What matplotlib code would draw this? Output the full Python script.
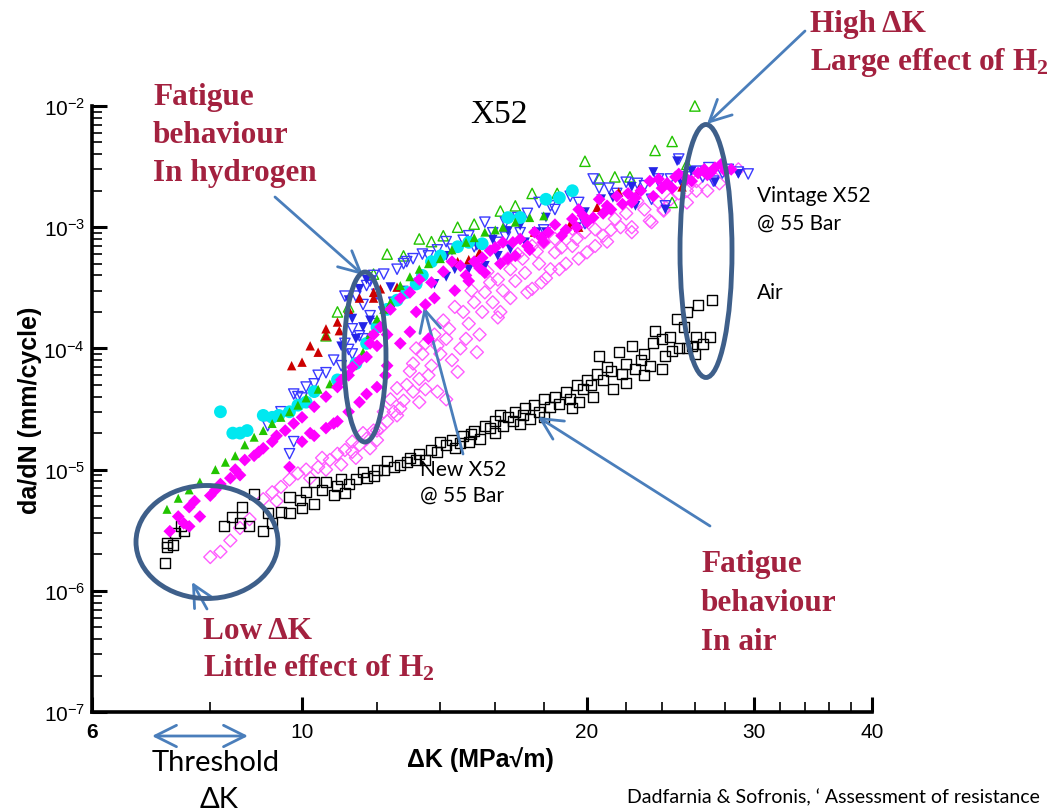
import numpy as np
import matplotlib
matplotlib.use("Agg")
import matplotlib.pyplot as plt
from matplotlib.patches import Ellipse
from matplotlib.ticker import FixedLocator, NullFormatter, LogLocator

# da/dN vs dK, X52 pipeline steel
# each series: (dK in MPa sqrt(m), da/dN in mm/cycle)
air = [(7.16, 1.7e-6), (7.2, 2.3e-6), (7.2, 2.5e-6), (7.3, 2.4e-6), (7.35, 3.0e-6), (7.45, 3.4e-6),
       (7.5, 3.1e-6), (8.27, 3.4e-6), (8.43, 4.1e-6), (8.6, 3.6e-6), (8.65, 4.9e-6), (8.8, 3.4e-6),
       (8.9, 6.3e-6), (9.1, 3.1e-6), (9.2, 4.4e-6), (9.3, 3.6e-6), (9.5, 4.5e-6), (9.7, 5.9e-6),
       (9.7, 4.4e-6), (9.96, 5.6e-6), (10.0, 4.8e-6), (10.1, 6.5e-6), (10.3, 7.9e-6), (10.3, 5.2e-6),
       (10.5, 6.8e-6), (10.6, 7.9e-6), (10.8, 6.2e-6), (10.9, 7.3e-6), (11.0, 8.3e-6), (11.1, 6.4e-6),
       (11.2, 7.6e-6), (11.4, 8.4e-6), (11.6, 9.5e-6), (11.7, 8.6e-6), (11.9, 8.8e-6), (12.0, 1.0e-5),
       (12.2, 1.0e-5), (12.3, 1.18e-5), (12.5, 1.05e-5), (12.7, 1.1e-5), (12.9, 1.15e-5), (13.0, 1.25e-5),
       (13.2, 1.2e-5), (13.3, 1.35e-5), (13.5, 1.2e-5), (13.7, 1.45e-5), (13.9, 1.4e-5), (14.0, 1.7e-5),
       (14.2, 1.6e-5), (14.4, 1.75e-5), (14.5, 1.5e-5), (14.7, 1.65e-5), (14.8, 1.9e-5), (15.0, 1.7e-5),
       (15.1, 1.95e-5), (15.2, 2.1e-5), (15.4, 1.8e-5), (15.6, 2.3e-5), (15.8, 2.2e-5), (16.0, 2.5e-5),
       (16.0, 2.0e-5), (16.2, 2.8e-5), (16.3, 2.3e-5), (16.5, 2.7e-5), (16.7, 2.5e-5), (16.8, 3.0e-5),
       (17.0, 2.4e-5), (17.1, 2.8e-5), (17.2, 3.2e-5), (17.4, 2.6e-5), (17.6, 3.4e-5), (17.8, 3.0e-5),
       (18.0, 3.8e-5), (18.0, 2.7e-5), (18.3, 3.3e-5), (18.5, 4.0e-5), (18.7, 3.5e-5), (19.0, 4.4e-5),
       (19.2, 3.8e-5), (19.3, 3.2e-5), (19.5, 5.0e-5), (19.6, 3.6e-5), (19.8, 4.6e-5), (20.0, 5.5e-5),
       (20.2, 5.0e-5), (20.3, 4.0e-5), (20.5, 6.2e-5), (20.6, 8.6e-5), (20.8, 5.5e-5), (21.0, 7.0e-5),
       (21.2, 6.5e-5), (21.3, 4.6e-5), (21.6, 9.4e-5), (21.8, 6.2e-5), (22.0, 7.5e-5), (22.0, 5.2e-5),
       (22.3, 1.05e-4), (22.5, 6.8e-5), (22.8, 8.0e-5), (23.0, 6.0e-5), (23.0, 9.0e-5), (23.3, 7.2e-5),
       (23.5, 1.1e-4), (23.6, 1.4e-4), (24.0, 1.2e-4), (24.0, 6.8e-5), (24.2, 8.6e-5), (24.5, 1.25e-4),
       (24.6, 9.5e-5), (24.9, 1.75e-4), (25.0, 1.0e-4), (25.3, 1.5e-4), (25.5, 2.0e-4), (25.5, 1.0e-4),
       (25.8, 1.05e-4), (26.0, 9.0e-5), (26.1, 1.25e-4), (26.2, 2.3e-4), (26.5, 1.08e-4), (27.0, 1.25e-4),
       (27.1, 2.5e-4)]

mag_open = [(8.0, 1.9e-6), (8.2, 2.1e-6), (8.4, 2.6e-6), (8.6, 3.3e-6), (8.8, 3.9e-6), (9.1, 5.7e-6),
            (9.3, 6.5e-6), (9.4, 5.5e-6), (9.5, 7.2e-6), (9.7, 8.3e-6), (9.9, 9.3e-6), (10.1, 1.0e-5),
            (10.2, 8.5e-6), (10.4, 1.05e-5), (10.5, 1.25e-5), (10.6, 1.0e-5), (10.7, 1.2e-5), (10.9, 1.35e-5),
            (11.0, 1.1e-5), (11.1, 1.45e-5), (11.3, 1.4e-5), (11.3, 1.7e-5), (11.4, 1.25e-5), (11.5, 1.6e-5),
            (11.6, 2.0e-5), (11.7, 1.8e-5), (11.8, 1.5e-5), (11.9, 2.1e-5), (12.0, 2.1e-5), (12.0, 1.75e-5),
            (12.1, 2.2e-5), (12.2, 3.0e-5), (12.3, 2.5e-5), (12.4, 3.8e-5), (12.5, 3.0e-5), (12.6, 4.7e-5),
            (12.6, 2.8e-5), (12.7, 3.2e-5), (12.8, 3.7e-5), (12.9, 5.0e-5), (13.0, 6.5e-5), (13.1, 4.4e-5),
            (13.1, 7.5e-5), (13.2, 1.0e-4), (13.3, 5.6e-5), (13.3, 3.6e-5), (13.4, 9.0e-5), (13.5, 4.6e-5),
            (13.5, 1.1e-4), (13.6, 6.0e-5), (13.7, 7.2e-5), (13.8, 1.3e-4), (13.9, 4.4e-5), (13.9, 1.05e-4),
            (14.0, 9.0e-5), (14.1, 1.7e-4), (14.2, 3.8e-5), (14.2, 1.2e-4), (14.3, 1.45e-4), (14.4, 8.0e-5),
            (14.5, 2.2e-4), (14.6, 6.4e-5), (14.7, 1.0e-4), (14.8, 2.0e-4), (14.9, 1.2e-4), (15.0, 1.6e-4),
            (15.1, 3.0e-4), (15.2, 2.4e-4), (15.3, 9.3e-5), (15.4, 1.3e-4), (15.5, 2.0e-4), (15.6, 2.9e-4),
            (15.7, 4.3e-4), (15.8, 3.5e-4), (15.9, 2.4e-4), (16.1, 3.7e-4), (16.1, 1.8e-4), (16.2, 2.0e-4),
            (16.3, 3.0e-4), (16.5, 5.5e-4), (16.6, 4.5e-4), (16.6, 2.6e-4), (16.8, 3.6e-4), (16.9, 6.0e-4),
            (17.1, 5.5e-4), (17.2, 4.2e-4), (17.3, 2.9e-4), (17.5, 7.0e-4), (17.5, 3.1e-4), (17.7, 6.3e-4),
            (17.8, 5.0e-4), (17.9, 3.5e-4), (18.0, 7.5e-4), (18.1, 3.8e-4), (18.3, 4.5e-4), (18.5, 8.0e-4),
            (18.5, 6.2e-4), (18.7, 4.5e-4), (18.8, 6.8e-4), (19.0, 5.0e-4), (19.3, 9.7e-4), (19.3, 7.0e-4),
            (19.5, 8.0e-4), (19.6, 5.5e-4), (19.9, 9.1e-4), (20.0, 6.2e-4), (20.4, 9.6e-4), (20.4, 7.0e-4),
            (20.8, 8.5e-4), (21.0, 7.6e-4), (21.2, 9.5e-4), (21.4, 1.17e-3), (21.7, 1.0e-3), (22.0, 1.3e-3),
            (22.3, 9.1e-4), (22.3, 1.0e-3), (22.6, 1.64e-3), (23.0, 1.4e-3), (23.3, 1.13e-3), (23.4, 1.1e-3),
            (23.8, 1.6e-3), (24.1, 1.37e-3), (24.1, 1.4e-3), (24.5, 1.7e-3), (25.0, 1.9e-3), (25.5, 1.6e-3),
            (25.5, 2.0e-3), (26.1, 2.4e-3), (26.1, 2.0e-3), (26.8, 2.0e-3), (27.2, 2.6e-3), (27.6, 2.3e-3),
            (28.9, 3.0e-3)]

mag_fill = [(7.25, 3.1e-6), (7.4, 4.1e-6), (7.5, 3.6e-6), (7.6, 4.9e-6), (7.6, 3.4e-6), (7.7, 5.5e-6),
            (7.8, 4.1e-6), (8.0, 6.1e-6), (8.1, 6.8e-6), (8.2, 7.6e-6), (8.4, 8.5e-6), (8.5, 1.0e-5),
            (8.6, 9.0e-6), (8.7, 1.2e-5), (8.9, 1.3e-5), (9.0, 1.4e-5), (9.1, 1.5e-5), (9.3, 1.7e-5),
            (9.4, 1.9e-5), (9.6, 2.1e-5), (9.7, 1.05e-5), (9.8, 2.4e-5), (10.0, 2.7e-5), (10.0, 1.7e-5),
            (10.2, 2.0e-5), (10.3, 3.3e-5), (10.3, 1.9e-5), (10.6, 4.0e-5), (10.6, 2.2e-5), (10.8, 2.4e-5),
            (10.9, 4.8e-5), (10.9, 2.5e-5), (11.0, 5.5e-5), (11.2, 6.0e-5), (11.2, 3.0e-5), (11.3, 7.0e-5),
            (11.5, 8.0e-5), (11.5, 3.6e-5), (11.7, 4.2e-5), (11.7, 8.5e-5), (11.8, 1.1e-4), (11.9, 1.3e-4),
            (12.0, 4.8e-5), (12.0, 1.05e-4), (12.1, 1.5e-4), (12.25, 6.0e-5), (12.3, 7.2e-5), (12.3, 1.3e-4),
            (12.4, 2.1e-4), (12.7, 2.6e-4), (12.7, 1.1e-4), (13.0, 2.9e-4), (13.0, 1.37e-4), (13.2, 2.0e-4),
            (13.3, 3.7e-4), (13.5, 2.3e-4), (13.6, 1.2e-4), (13.7, 3.5e-4), (13.8, 2.6e-4), (14.1, 4.3e-4),
            (14.4, 5.2e-4), (14.5, 3.0e-4), (14.7, 4.8e-4), (14.9, 4.0e-4), (15.0, 3.6e-4), (15.2, 5.2e-4),
            (15.4, 4.6e-4), (15.5, 5.6e-4), (15.6, 4.2e-4), (15.8, 6.4e-4), (16.0, 6.8e-4), (16.2, 5.0e-4),
            (16.3, 7.5e-4), (16.5, 5.5e-4), (16.7, 7.5e-4), (16.8, 5.8e-4), (17.0, 8.0e-4), (17.3, 7.0e-4),
            (17.4, 6.5e-4), (17.6, 9.1e-4), (17.9, 8.2e-4), (18.0, 7.5e-4), (18.2, 9.1e-4), (18.5, 1.05e-3),
            (18.8, 8.5e-4), (19.0, 9.5e-4), (19.3, 1.17e-3), (19.5, 1.0e-3), (19.6, 1.4e-3), (19.8, 1.25e-3),
            (20.0, 1.1e-3), (20.3, 1.2e-3), (20.6, 1.7e-3), (20.8, 1.3e-3), (21.0, 1.5e-3), (21.2, 1.4e-3),
            (21.5, 1.8e-3), (21.8, 1.55e-3), (22.1, 1.9e-3), (22.3, 1.6e-3), (22.5, 1.75e-3), (22.8, 2.0e-3),
            (23.3, 2.4e-3), (23.5, 1.8e-3), (23.8, 2.5e-3), (24.0, 2.1e-3), (24.3, 2.3e-3), (24.6, 2.1e-3),
            (24.8, 2.6e-3), (25.0, 2.75e-3), (25.5, 2.5e-3), (25.8, 2.4e-3), (26.2, 2.8e-3), (26.6, 3.0e-3),
            (26.8, 2.7e-3), (27.0, 2.8e-3), (27.3, 3.1e-3), (27.7, 3.3e-3), (28.0, 2.9e-3), (28.4, 3.0e-3)]

green_fill = [(7.2, 4.7e-6), (7.4, 5.8e-6), (7.6, 6.8e-6), (7.8, 7.9e-6), (8.1, 1.0e-5), (8.3, 1.15e-5),
              (8.5, 1.3e-5), (8.7, 1.6e-5), (8.9, 1.85e-5), (9.1, 2.1e-5), (9.3, 2.4e-5), (9.5, 2.7e-5),
              (9.7, 3.0e-5), (9.9, 3.4e-5), (10.1, 3.9e-5), (10.4, 4.6e-5), (10.7, 5.1e-5), (11.0, 5.6e-5),
              (11.3, 7.2e-5), (11.6, 9.3e-5), (11.8, 1.3e-4), (12.0, 1.75e-4), (12.2, 2.1e-4), (12.4, 2.4e-4),
              (12.7, 3.3e-4), (13.0, 3.9e-4), (13.3, 4.5e-4), (13.6, 5.0e-4), (14.0, 5.5e-4), (14.4, 6.5e-4),
              (14.9, 7.5e-4), (15.2, 8.2e-4), (15.6, 9.1e-4), (16.0, 9.5e-4), (16.3, 1.0e-3), (16.8, 1.1e-3),
              (17.4, 1.2e-3), (18.0, 1.24e-3)]

green_open = [(10.6, 1.27e-4), (10.9, 2.0e-4), (11.2, 2.2e-4), (11.9, 4.1e-4), (12.3, 6.0e-4), (12.8, 5.8e-4),
              (13.3, 8.0e-4), (13.7, 7.6e-4), (14.1, 8.5e-4), (14.6, 1.0e-3), (15.2, 1.06e-3), (16.2, 1.36e-3),
              (16.8, 1.5e-3), (17.5, 1.9e-3), (18.6, 1.9e-3), (19.9, 3.5e-3), (20.6, 2.5e-3), (21.4, 2.6e-3),
              (22.2, 2.6e-3), (23.6, 4.3e-3), (24.6, 5.1e-3), (24.6, 1.6e-3), (25.5, 3.3e-3), (26.0, 1.0e-2)]

cyan = [(8.2, 3.0e-5), (8.45, 2.0e-5), (8.6, 2.0e-5), (8.75, 2.1e-5), (9.1, 2.8e-5), (9.3, 2.7e-5),
        (9.45, 2.8e-5), (9.7, 3.0e-5), (9.9, 3.4e-5), (10.1, 3.6e-5), (10.3, 4.4e-5), (10.9, 5.5e-5),
        (11.4, 7.5e-5), (11.7, 1.1e-4), (12.0, 1.5e-4), (12.3, 2.1e-4), (12.6, 2.5e-4), (12.9, 2.9e-4),
        (13.2, 3.4e-4), (13.4, 4.0e-4), (13.7, 5.2e-4), (14.0, 5.8e-4), (14.6, 6.9e-4), (15.0, 7.5e-4),
        (15.5, 7.3e-4), (16.5, 1.2e-3), (17.0, 1.2e-3), (18.1, 1.7e-3), (18.7, 1.75e-3), (19.3, 2.0e-3)]

blue_open = [(9.2, 2.3e-5), (9.5, 3.0e-5), (9.7, 1.35e-5), (9.8, 1.7e-5), (9.8, 4.2e-5), (9.9, 4.0e-5),
             (10.0, 3.9e-5), (10.1, 4.8e-5), (10.3, 5.1e-5), (10.4, 6.0e-5), (10.6, 6.3e-5), (10.8, 8.0e-5),
             (11.0, 7.2e-5), (11.1, 1.1e-4), (11.2, 9.8e-5), (11.3, 9.0e-5), (11.5, 1.27e-4), (11.3, 1.45e-4),
             (11.6, 1.2e-4), (11.6, 2.3e-4), (11.8, 1.86e-4), (11.9, 1.6e-4), (12.0, 2.8e-4), (12.2, 2.0e-4),
             (12.5, 2.4e-4), (11.1, 2.7e-4), (11.4, 2.7e-4), (11.7, 3.3e-4), (11.8, 3.6e-4), (11.9, 4.0e-4),
             (12.2, 4.1e-4), (12.6, 4.5e-4), (12.8, 5.0e-4), (12.9, 5.2e-4), (13.1, 5.5e-4), (13.4, 6.0e-4),
             (13.6, 5.8e-4), (13.9, 6.5e-4), (14.2, 7.6e-4), (14.4, 6.6e-4), (14.8, 7.8e-4), (15.0, 8.5e-4),
             (15.2, 6.9e-4), (15.6, 1.1e-3), (15.9, 9.0e-4), (16.1, 7.5e-4), (16.4, 8.3e-4), (16.4, 1.1e-3),
             (16.9, 1.2e-3), (17.0, 9.0e-4), (17.3, 1.3e-3), (17.8, 1.6e-3), (18.0, 9.5e-4), (18.3, 1.5e-3),
             (18.5, 1.4e-3), (19.2, 1.8e-3), (19.6, 1.6e-3), (19.9, 1.07e-3), (20.3, 2.5e-3), (20.6, 2.1e-3),
             (21.1, 2.1e-3), (21.5, 1.9e-3), (22.0, 2.35e-3), (22.4, 1.7e-3), (22.6, 2.3e-3), (23.0, 2.2e-3),
             (23.4, 1.7e-3), (23.8, 2.5e-3), (24.0, 2.1e-3), (24.2, 1.5e-3), (24.5, 2.5e-3), (25.0, 3.65e-3),
             (25.5, 2.6e-3), (26.1, 2.9e-3), (26.5, 2.6e-3), (26.9, 3.1e-3), (27.2, 2.4e-3), (27.8, 2.8e-3),
             (28.2, 3.0e-3), (28.9, 2.85e-3), (29.6, 2.75e-3)]

blue_fill = [(11.0, 1.04e-4), (11.4, 1.2e-4), (11.3, 1.76e-4), (11.6, 1.5e-4), (11.8, 1.7e-4), (11.5, 3.1e-4),
             (11.7, 3.7e-4), (11.2, 2.5e-4), (12.4, 3.2e-4), (12.8, 3.0e-4), (13.3, 3.5e-4), (13.8, 3.4e-4),
             (14.2, 3.9e-4), (14.5, 4.5e-4), (14.2, 5.8e-4), (15.0, 4.5e-4), (15.3, 7.0e-4), (15.6, 4.8e-4),
             (15.9, 7.9e-4), (16.1, 5.8e-4), (16.5, 9.3e-4), (16.6, 6.6e-4), (17.0, 1.03e-3), (17.2, 7.5e-4),
             (17.7, 9.1e-4), (18.1, 1.2e-3), (18.1, 9.1e-4), (19.5, 1.0e-3), (19.9, 1.33e-3), (20.7, 1.7e-3),
             (21.3, 1.75e-3), (22.3, 2.15e-3), (22.5, 1.5e-3), (23.5, 2.85e-3), (24.2, 1.4e-3), (24.9, 3.5e-3),
             (25.1, 2.4e-3), (25.8, 2.9e-3), (27.3, 2.35e-3), (28.9, 2.75e-3)]

red_fill = [(9.75, 7.2e-5), (10.0, 7.7e-5), (10.2, 1.05e-4), (10.4, 9.3e-5), (10.6, 1.27e-4), (10.6, 1.45e-4),
            (10.9, 1.65e-4), (10.95, 1.4e-4), (11.2, 2.1e-4), (11.5, 2.6e-4), (11.9, 2.6e-4), (11.9, 2.9e-4),
            (12.1, 3.1e-4), (12.6, 3.2e-4), (14.6, 5.2e-4), (15.0, 5.4e-4), (15.4, 6.2e-4), (17.6, 9.1e-4),
            (19.2, 1.06e-3), (19.6, 1.0e-3), (20.5, 1.46e-3), (21.6, 1.95e-3), (22.7, 2.05e-3), (25.2, 2.15e-3)]

xticks = [6, 10, 20, 30, 40]
xtick_labels = ['6', '10', '20', '30', '40']
xminor = [8, 12, 14, 16, 18, 22, 24, 26, 28, 32, 34, 36, 38]
yticks = [1e-7, 1e-6, 1e-5, 1e-4, 1e-3, 1e-2]
ytick_labels = ['$10^{-7}$', '$10^{-6}$', '$10^{-5}$', '$10^{-4}$', '$10^{-3}$', '$10^{-2}$']

W, H = 1056, 812
RED = '#A3213F'
ELL = '#3E5F8A'
ARR = '#4A7EBB'
SERIF = ['Liberation Serif', 'DejaVu Serif']
SANS = ['Lato', 'DejaVu Sans']

plt.rcParams['font.family'] = ['Liberation Sans', 'DejaVu Sans']
plt.rcParams['mathtext.default'] = 'regular'

fig = plt.figure(figsize=(W / 100, H / 100), dpi=100)
ax = fig.add_axes([92 / W, 1 - 713 / H, 780 / W, 606 / H])
ax.set_xscale('log')
ax.set_yscale('log')


def plot_series(data, marker, size, color, filled, z):
    k, d = zip(*data)
    if filled:
        ax.scatter(k, d, s=size, marker=marker, c=color, edgecolors='none', zorder=z, clip_on=False)
    else:
        ax.scatter(k, d, s=size, marker=marker, facecolors='none', edgecolors=color,
                   linewidths=1.0, zorder=z, clip_on=False)


plot_series(mag_open, 'D', 44, '#FF5CFF', False, 2)
plot_series(air, 's', 52, 'black', False, 3)
plot_series(green_open, '^', 55, '#22C400', False, 4)
plot_series(blue_open, 'v', 55, '#3A3AFF', False, 4)
plot_series(blue_fill, 'v', 50, '#2424E6', True, 5)
plot_series(red_fill, '^', 46, '#CC0000', True, 5)
plot_series(cyan, 'o', 85, '#00E8F0', True, 6)
plot_series(green_fill, '^', 42, '#22C400', True, 7)
plot_series(mag_fill, 'D', 42, '#FF00FF', True, 8)

ax.set_xlim(6, 40)
ax.set_ylim(1e-7, 1e-2)
ax.xaxis.set_major_locator(FixedLocator(xticks))
ax.set_xticklabels(xtick_labels)
ax.xaxis.set_minor_locator(FixedLocator(xminor))
ax.xaxis.set_minor_formatter(NullFormatter())
ax.yaxis.set_major_locator(FixedLocator(yticks))
ax.set_yticklabels(ytick_labels)
ax.yaxis.set_minor_locator(LogLocator(base=10, subs=np.arange(2, 10)))
ax.yaxis.set_minor_formatter(NullFormatter())
ax.tick_params(which='major', direction='in', length=11, width=2.2, labelsize=15, color='black')
ax.tick_params(which='minor', direction='in', length=7, width=1.2)
ax.tick_params(axis='x', pad=7)
ax.tick_params(axis='y', pad=5)
ax.get_xticklabels()[0].set_fontweight('bold')
for side in ['top', 'right']:
    ax.spines[side].set_visible(False)
for side in ['left', 'bottom']:
    ax.spines[side].set_linewidth(2.6)


def ftext(px, py, s, **kw):
    fig.text(px / W, 1 - py / H, s, **kw)


# axis titles
ftext(480, 760, 'ΔK (MPa√m)', fontsize=18, fontweight='bold', ha='center', va='center')
ftext(30, 410, 'da/dN (mm/cycle)', fontsize=18, fontweight='bold', ha='center', va='center', rotation=90)

# red call-outs
red_kw = dict(fontsize=22.5, fontweight='bold', color=RED, family=SERIF, va='baseline')
ftext(153, 105, 'Fatigue', **red_kw)
ftext(153, 143, 'behaviour', **red_kw)
ftext(153, 181, 'In hydrogen', **red_kw)
ftext(810, 32, 'High ΔK', **red_kw)
ftext(810, 70, 'Large effect of H$_2$', **red_kw)
ftext(203, 639, 'Low ΔK', **red_kw)
ftext(203, 677, 'Little effect of H$_2$', **red_kw)
ftext(701, 572, 'Fatigue', **red_kw)
ftext(701, 611, 'behaviour', **red_kw)
ftext(701, 650, 'In air', **red_kw)

ftext(470, 123, 'X52', fontsize=24, family=SERIF, va='baseline')

small_kw = dict(fontsize=15, family=SANS, va='baseline')
ftext(757, 202, 'Vintage X52', **small_kw)
ftext(757, 230, '@ 55 Bar', **small_kw)
ftext(757, 299, 'Air', **small_kw)
ftext(420, 476, 'New X52', **small_kw)
ftext(420, 502, '@ 55 Bar', **small_kw)
ftext(152, 771, 'Threshold', fontsize=21, family=SANS, va='baseline')
ftext(200, 808, 'ΔK', fontsize=21, family=SANS, va='baseline')
# source note (runs off the slide edge in the original; kept to the part that fits)
ftext(627, 803, 'Dadfarnia & Sofronis, \u2018 Assessment of resistance', fontsize=14,
      family=SANS, va='baseline')

# ellipses (figure pixels)
for cx, cy, w, h in [(207, 543, 142, 113), (365, 358, 42, 170), (706, 252, 52, 253)]:
    fig.add_artist(Ellipse((cx / W, 1 - cy / H), w / W, h / H, transform=fig.transFigure,
                           fill=False, ec=ELL, lw=3.5, zorder=10))

# arrows (figure pixels, y down)
arrows = [((275, 198), (363, 276)), ((805, 32), (707, 125)), ((207, 610), (192, 583)),
          ((463, 455), (424, 308)), ((710, 527), (538, 418))]
for (x0, y0), (x1, y1) in arrows:
    ax.annotate('', xy=(x1, H - y1), xytext=(x0, H - y0), xycoords='figure pixels',
                textcoords='figure pixels',
                arrowprops=dict(arrowstyle='->,head_length=0.7,head_width=0.35', color=ARR,
                                lw=2, mutation_scale=22, shrinkA=0, shrinkB=0), annotation_clip=False)
ax.annotate('', xy=(248, H - 737), xytext=(152, H - 737), xycoords='figure pixels',
            textcoords='figure pixels',
            arrowprops=dict(arrowstyle='<->,head_length=0.7,head_width=0.35', color=ARR,
                            lw=2, mutation_scale=22, shrinkA=0, shrinkB=0), annotation_clip=False)

fig.savefig('out.png', dpi=100)
